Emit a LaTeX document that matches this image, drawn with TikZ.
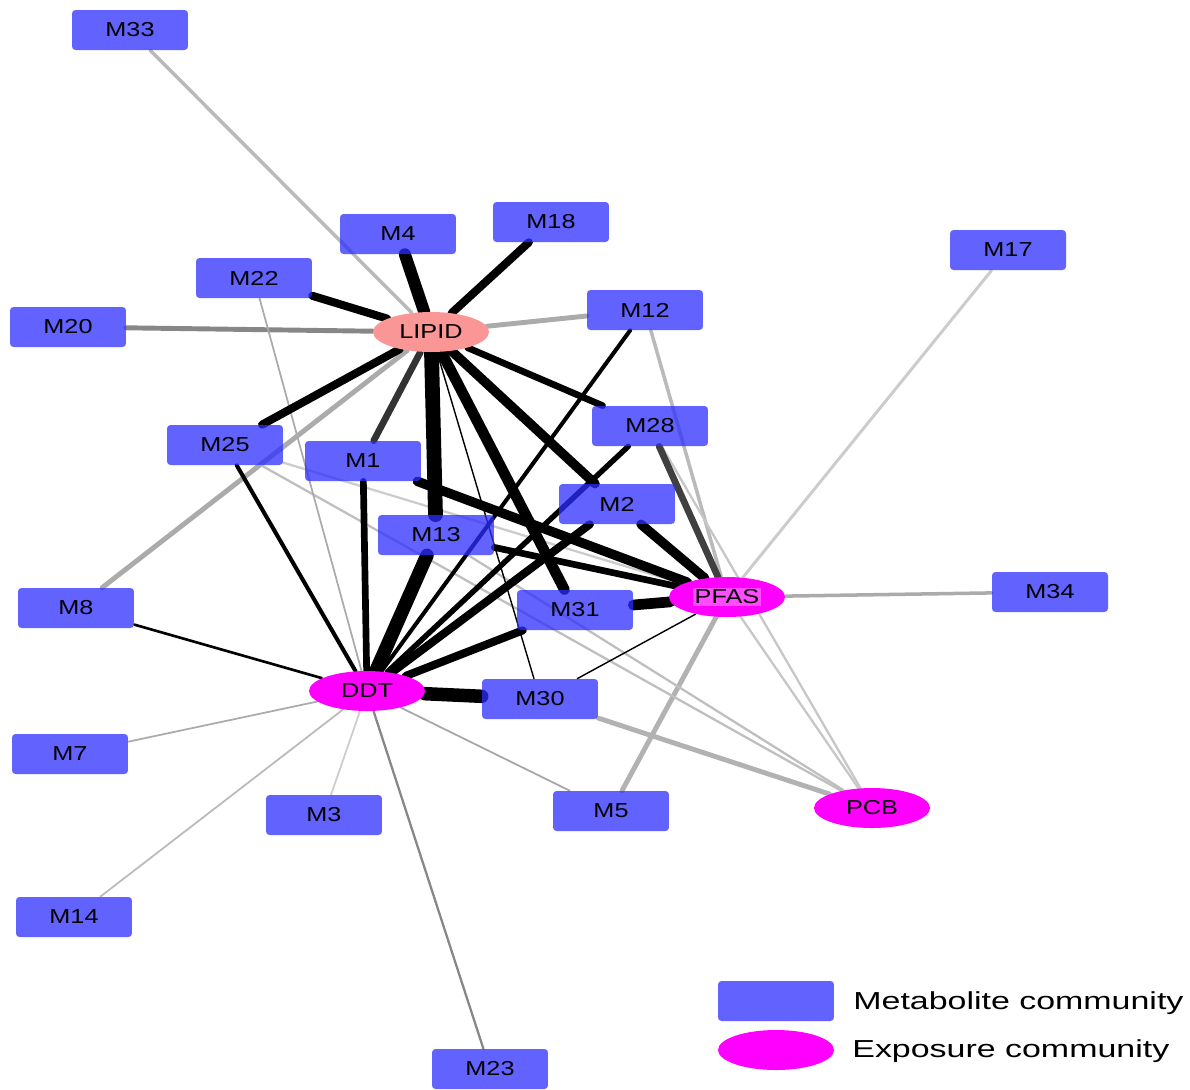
\documentclass[tikz,border=0pt]{standalone}
\usepackage{fontspec}
\setmainfont{Liberation Sans}
\newfontfamily\nodefont[FakeStretch=1.25]{Liberation Sans}
\newfontfamily\legendfont[FakeStretch=1.38]{Liberation Sans}
\usetikzlibrary{shapes.geometric, backgrounds}
\definecolor{metablue}{RGB}{45,45,255}
\definecolor{expmagenta}{RGB}{255,0,255}
\definecolor{lipidpink}{RGB}{250,150,150}

\begin{document}
\begin{tikzpicture}[
      x=0.02cm, y=-0.02cm,
      metabolite node/.style={rectangle,rounded corners=2pt,fill=metablue,fill opacity=.75,text opacity=1,
        minimum width=2.32cm,minimum height=.8cm,inner sep=0pt,font={\nodefont\fontsize{11.5}{13}\selectfont}},
      exposure node/.style={ellipse,fill=expmagenta,minimum width=2.32cm,minimum height=.8cm,inner sep=0pt,
        font={\nodefont\fontsize{11.5}{13}\selectfont}},
      lipid node/.style={exposure node,fill=lipidpink},
      legend text/.style={anchor=west,inner sep=0pt,font={\legendfont\fontsize{14}{16}\selectfont}},
      black link/.style={line cap=round,black,line width=#1},
      grey link/.style={line cap=round,line width=#1}
      ]
      \useasboundingbox (0,0) rectangle (1190,1089);
      % exposures
      \node [lipid node] (lipid) at (431,332) {LIPID};
      \node [exposure node] (ddt) at (367,691) {DDT};
      \node [exposure node] (pfas) at (727,597) {\setlength{\fboxsep}{1pt}\colorbox{expmagenta!70!white}{PFAS}};
      \node [exposure node] (pcb) at (872,808) {PCB};
      % metabolites
      \foreach \name/\x/\y in {M33/130/30,M4/398/234,M18/551/222,M22/254/278,M20/68/327,M12/645/310,
        M17/1008/250,M25/225/445,M1/363/461,M28/650/426,M2/617/504,M13/436/535,M34/1050/592,M8/76/608,
        M31/575/610,M30/540/699,M7/70/754,M3/324/815,M5/611/811,M14/74/917,M23/490/1069} {
          \node [metabolite node] (\name) at (\x,\y) {\name};
      }
      % legend
      \node [metabolite node] (legend box) at (776,1001) {};
      \node [legend text] (legend box text) at (853,1003) {Metabolite community};
      \node [exposure node] (legend ellipse) at (776,1050) {};
      \node [legend text] (legend ellipse text) at (852,1051) {Exposure community};
      % links
      \begin{scope}[on background layer]
        % grey links
        \foreach \a/\b/\w/\c in {lipid/M33/2/black!27,lipid/M20/2.8/black!47,lipid/M12/2.8/black!33,
          lipid/M8/2.8/black!33,pfas/M12/2/black!27,pfas/M17/1.7/black!20,pfas/M34/2/black!33,
          pfas/M5/2.8/black!30,pfas/pcb/1.3/black!22,M28/pcb/1.3/black!22,M30/pcb/2.8/black!30,
          M25/pfas/1.3/black!20,M25/pcb/1.3/black!25,M13/pcb/1.3/black!25,M22/ddt/1/black!33,
          ddt/M7/1/black!33,ddt/M14/1/black!27,ddt/M3/1/black!20,ddt/M23/1.3/black!47,
          ddt/M5/1/black!35} {
            \draw [grey link=\w pt,\c] (\a) -- (\b);
        }
        % black links
        \foreach \a/\b/\w in {lipid/M13/8.4,lipid/M4/6.9,lipid/M31/6.1,lipid/M2/5.4,lipid/M18/4.6,
          lipid/M22/4.6,lipid/M25/4.6,lipid/M28/3.8,lipid/M30/.8,ddt/M13/7.7,ddt/M30/7.7,ddt/M2/4.6,
          ddt/M31/4.6,ddt/M1/3.8,ddt/M28/3.1,ddt/M12/2.3,ddt/M25/2.3,ddt/M8/1.5,pfas/M31/6.1,
          pfas/M1/5.4,pfas/M2/5.4,pfas/M13/3.8,pfas/M30/.8} {
            \draw [black link=\w pt] (\a) -- (\b);
        }
        % dark grey links
        \draw [black link=3.8pt,black!80] (lipid) -- (M1);
        \draw [black link=3.8pt,black!75] (pfas) -- (M28);
      \end{scope}
    \end{tikzpicture}
\end{document}
